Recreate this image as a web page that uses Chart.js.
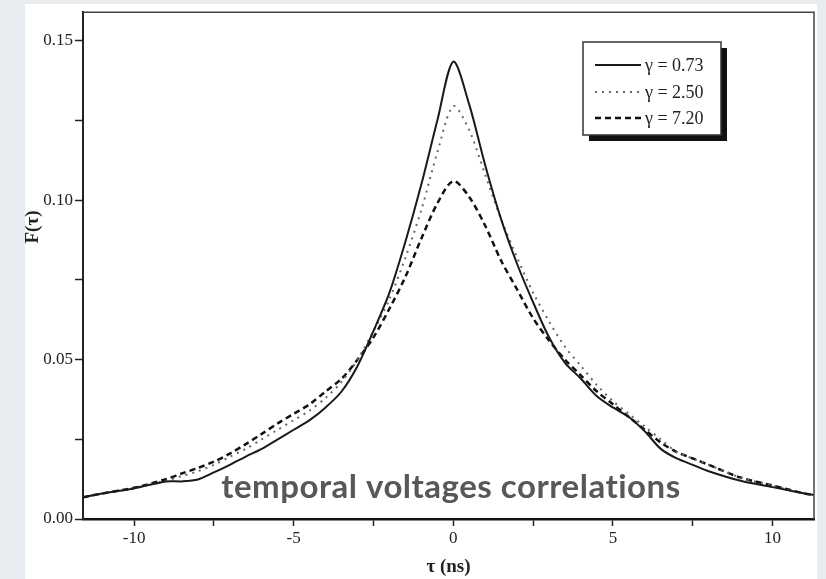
<!DOCTYPE html>
<html>
<head>
<meta charset="utf-8">
<script src="https://cdn.jsdelivr.net/npm/chart.js@4.4.1/dist/chart.umd.min.js"></script>
<style>
  html, body { margin: 0; padding: 0; background: #e8ebef; }
  #wrap { width: 826px; height: 579px; }
</style>
</head>
<body>
<div id="wrap"><canvas id="corrChart" width="826" height="579"></canvas></div>
<script>
// tau values (ns)
const tau = [-11.6, -11, -10, -9, -8.5, -8, -7.5, -7, -6.5, -6, -5.5, -5, -4.5, -4, -3.5, -3, -2.5, -2, -1.5, -1, -0.5,
  0, 0.5, 1, 1.5, 2, 2.5, 3, 3.5, 4, 4.5, 5, 5.5, 6, 6.5, 7, 7.5, 8, 9, 10, 11, 11.3];

// F(tau) for each gamma
const gamma073 = [0.0068, 0.008, 0.0096, 0.0118, 0.0118, 0.0124, 0.0146, 0.017, 0.0196, 0.022, 0.025, 0.028, 0.031, 0.035, 0.040, 0.048, 0.059, 0.071, 0.087, 0.105, 0.125,
  0.1435, 0.130, 0.111, 0.094, 0.080, 0.068, 0.057, 0.049, 0.044, 0.0385, 0.035, 0.032, 0.0275, 0.022, 0.019, 0.017, 0.015, 0.012, 0.010, 0.008, 0.0075];
const gamma250 = [0.0068, 0.008, 0.0098, 0.012, 0.0135, 0.015, 0.017, 0.0195, 0.022, 0.025, 0.028, 0.031, 0.034, 0.038, 0.043, 0.050, 0.059, 0.069, 0.082, 0.097, 0.115,
  0.1295, 0.122, 0.108, 0.094, 0.082, 0.071, 0.062, 0.054, 0.048, 0.042, 0.037, 0.033, 0.029, 0.025, 0.021, 0.019, 0.017, 0.013, 0.0105, 0.008, 0.0075];
const gamma720 = [0.0068, 0.008, 0.0098, 0.0125, 0.0143, 0.016, 0.018, 0.0205, 0.0235, 0.0267, 0.030, 0.033, 0.036, 0.040, 0.044, 0.050, 0.057, 0.066, 0.076, 0.088, 0.099,
  0.106, 0.101, 0.092, 0.081, 0.072, 0.063, 0.056, 0.050, 0.045, 0.040, 0.036, 0.032, 0.028, 0.024, 0.021, 0.019, 0.017, 0.013, 0.0105, 0.008, 0.0075];

const seriesLabels = ['\u03b3 = 0.73', '\u03b3 = 2.50', '\u03b3 = 7.20'];
const overlayText = 'temporal voltages correlations';

function toPoints(ys) {
  return tau.map((t, i) => ({ x: t, y: ys[i] }));
}

const serif = '"Liberation Serif", "DejaVu Serif", serif';

// page background, frame, legend box, y title and overlay caption
const decorPlugin = {
  id: 'decor',
  beforeDraw(chart) {
    const ctx = chart.ctx;
    ctx.save();
    ctx.fillStyle = '#e8ebef';
    ctx.fillRect(0, 0, chart.width, chart.height);
    ctx.fillStyle = '#ffffff';
    ctx.fillRect(25, 4, 792, 575);
    ctx.restore();
  },
  afterDraw(chart) {
    const ctx = chart.ctx;
    const a = chart.chartArea;
    ctx.save();

    // top and right frame lines
    ctx.strokeStyle = '#444';
    ctx.lineWidth = 1.5;
    ctx.beginPath();
    ctx.moveTo(a.left, a.top);
    ctx.lineTo(a.right, a.top);
    ctx.lineTo(a.right, a.bottom);
    ctx.stroke();

    // legend with drop shadow
    ctx.fillStyle = '#111';
    ctx.fillRect(589, 48, 138, 93);
    ctx.fillStyle = '#fff';
    ctx.fillRect(583, 42, 138, 93);
    ctx.strokeStyle = '#333';
    ctx.lineWidth = 1.5;
    ctx.strokeRect(583, 42, 138, 93);

    const rows = [65, 92, 118];
    chart.data.datasets.forEach((ds, i) => {
      ctx.strokeStyle = ds.borderColor;
      ctx.lineWidth = ds.borderWidth;
      ctx.setLineDash(ds.borderDash || []);
      ctx.beginPath();
      ctx.moveTo(595, rows[i]);
      ctx.lineTo(641, rows[i]);
      ctx.stroke();
      ctx.setLineDash([]);
      ctx.fillStyle = '#222';
      ctx.font = '18px ' + serif;
      ctx.textAlign = 'left';
      ctx.textBaseline = 'middle';
      ctx.fillText(ds.label, 645, rows[i] + 1);
    });

    // y axis title
    ctx.translate(33, 227);
    ctx.rotate(-Math.PI / 2);
    ctx.fillStyle = '#222';
    ctx.font = 'bold 19px ' + serif;
    ctx.textAlign = 'center';
    ctx.textBaseline = 'middle';
    ctx.fillText('F(\u03c4)', 0, 0);
    ctx.setTransform(1, 0, 0, 1, 0, 0);

    // overlay caption
    ctx.fillStyle = '#585858';
    ctx.font = 'bold 33px Lato, "Open Sans", sans-serif';
    ctx.letterSpacing = '0.5px';
    ctx.textAlign = 'center';
    ctx.textBaseline = 'alphabetic';
    ctx.fillText(overlayText, 451, 498);
    ctx.restore();
  }
};

function isMajor(v, step) {
  const r = v / step;
  return Math.abs(r - Math.round(r)) < 1e-6;
}

const ctx = document.getElementById('corrChart').getContext('2d');
new Chart(ctx, {
  type: 'line',
  data: {
    datasets: [
      {
        label: seriesLabels[0],
        data: toPoints(gamma073),
        borderColor: '#1a1a1a',
        borderWidth: 2,
        pointRadius: 0,
        tension: 0.3
      },
      {
        label: seriesLabels[1],
        data: toPoints(gamma250),
        borderColor: '#666666',
        borderWidth: 2,
        borderDash: [2, 5],
        pointRadius: 0,
        tension: 0.3
      },
      {
        label: seriesLabels[2],
        data: toPoints(gamma720),
        borderColor: '#111111',
        borderWidth: 2.5,
        borderDash: [6, 4],
        pointRadius: 0,
        tension: 0.3
      }
    ]
  },
  options: {
    responsive: false,
    animation: false,
    layout: { padding: { left: 0, top: 7, right: 12, bottom: 0 } },
    plugins: {
      legend: { display: false },
      tooltip: { enabled: false }
    },
    scales: {
      x: {
        type: 'linear',
        min: -11.6,
        max: 11.3,
        afterFit(scale) { scale.height = 60; },
        border: { display: true, color: '#111', width: 2.5 },
        grid: { drawOnChartArea: false, drawTicks: true, tickLength: 7, color: '#222', tickWidth: 1.5 },
        ticks: {
          stepSize: 2.5,
          includeBounds: false,
          autoSkip: false,
          maxRotation: 0,
          padding: 2,
          color: '#222',
          font: { family: serif, size: 17 },
          callback: v => isMajor(v, 5) ? String(Math.round(v)) : ''
        },
        title: {
          display: true,
          text: '\u03c4 (ns)',
          color: '#222',
          font: { family: serif, size: 19, weight: 'bold' },
          padding: { top: 0, bottom: 1 }
        }
      },
      y: {
        type: 'linear',
        min: 0,
        max: 0.159,
        afterFit(scale) { scale.width = 83; },
        border: { display: true, color: '#222', width: 2 },
        grid: { drawOnChartArea: false, drawTicks: true, tickLength: 8, color: '#222', tickWidth: 1.5 },
        ticks: {
          stepSize: 0.025,
          includeBounds: false,
          autoSkip: false,
          padding: 2,
          color: '#222',
          font: { family: serif, size: 17 },
          callback: v => isMajor(v, 0.05) ? v.toFixed(2) : ''
        }
      }
    }
  },
  plugins: [decorPlugin]
});
</script>
</body>
</html>
